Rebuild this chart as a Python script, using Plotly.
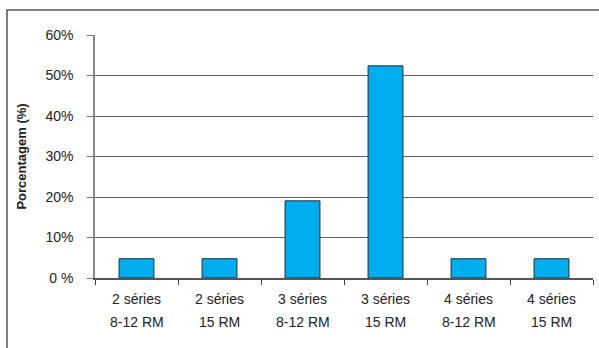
import plotly.graph_objects as go

# Distribution of protocols (share of studies)
line1 = ["2 séries", "2 séries", "3 séries", "3 séries", "4 séries", "4 séries"]
line2 = ["8-12 RM", "15 RM", "8-12 RM", "15 RM", "8-12 RM", "15 RM"]
categories = [f"{a} {b}" for a, b in zip(line1, line2)]
values = [0.0476, 0.0476, 0.1905, 0.5238, 0.0476, 0.0476]

tick_vals = [0, 0.1, 0.2, 0.3, 0.4, 0.5, 0.6]
tick_text = ["0 %", "10%", "20%", "30%", "40%", "50%", "60%"]

FONT = "Liberation Sans, Arial, sans-serif"
W, H = 599, 348
L, R, T, B = 95, 6, 35, 70

fig = go.Figure(
    go.Bar(
        x=categories,
        y=values,
        width=0.42,
        marker=dict(color="#00AEEF", line=dict(color="#1f2d3a", width=1)),
    )
)

# two-line category labels
plot_h = H - T - B
for cat, a, b in zip(categories, line1, line2):
    fig.add_annotation(x=cat, y=-(309 - 278) / plot_h, xref="x", yref="paper",
                       text=a, showarrow=False, yanchor="bottom",
                       font=dict(family=FONT, size=14, color="#222"))
    fig.add_annotation(x=cat, y=-(332 - 278) / plot_h, xref="x", yref="paper",
                       text=b, showarrow=False, yanchor="bottom",
                       font=dict(family=FONT, size=14, color="#222"))

# outer frame
plot_w = W - L - R
fig.add_shape(type="rect", xref="paper", yref="paper",
              x0=(7 - L) / plot_w, x1=1.2, y0=-0.5, y1=(H - B - 10) / plot_h,
              line=dict(color="#555", width=1.5), layer="below")

fig.update_layout(
    width=W, height=H,
    margin=dict(l=L, r=R, t=T, b=B),
    paper_bgcolor="white", plot_bgcolor="white",
    showlegend=False,
    font=dict(family=FONT, size=14, color="#222"),
    xaxis=dict(
        type="category", showticklabels=False,
        ticks="outside", tickson="boundaries", ticklen=5, tickcolor="#444",
        showline=True, linecolor="#555", linewidth=1.5,
        showgrid=False,
    ),
    yaxis=dict(
        range=[0, 0.6], tickvals=tick_vals, ticktext=tick_text,
        ticks="outside", ticklen=6, tickcolor="#777",
        ticklabelstandoff=11,
        showline=True, linecolor="#888", linewidth=1.5,
        showgrid=True, gridcolor="#5e5e5e", gridwidth=1.2,
        zeroline=False,
        tickfont=dict(size=14),
        title=dict(text="<b>Porcentagem (%)</b>", font=dict(size=13), standoff=16),
    ),
)

fig.write_html("out.html")
